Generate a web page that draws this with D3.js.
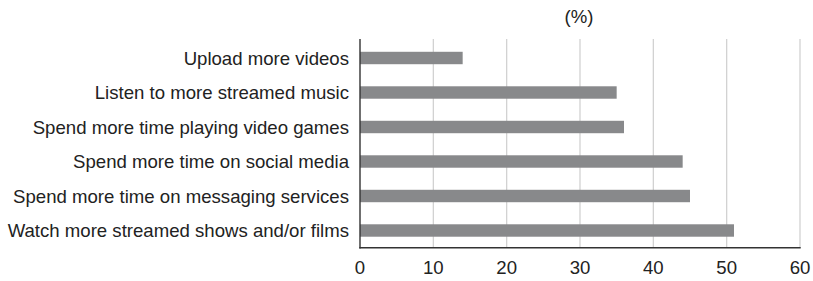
<!DOCTYPE html>
<html>
<head>
<meta charset="utf-8">
<script src="https://cdn.jsdelivr.net/npm/d3@7"></script>
<style>
  body { margin: 0; background: #fff; }
  svg text { font-family: "Liberation Sans", Arial, sans-serif; fill: #222; }
</style>
</head>
<body>
<svg id="chart" width="813" height="281"></svg>
<script>
// Chart data
const categories = [
  'Upload more videos',
  'Listen to more streamed music',
  'Spend more time playing video games',
  'Spend more time on social media',
  'Spend more time on messaging services',
  'Watch more streamed shows and/or films'
];
const values = [14, 35, 36, 44, 45, 51];
const xTicks = [0, 10, 20, 30, 40, 50, 60];
const unitLabel = '(%)';

const svg = d3.select('#chart');

const x = d3.scaleLinear().domain([0, 60]).range([360, 800]);
const y = d3.scaleBand()
  .domain(categories)
  .range([40.75, 247.75])
  .paddingInner(0.64)
  .paddingOuter(0.32);

// gridlines
svg.append('g')
  .selectAll('line')
  .data(xTicks.filter(d => d > 0))
  .enter().append('line')
  .attr('x1', d => x(d))
  .attr('x2', d => x(d))
  .attr('y1', 39)
  .attr('y2', 247.75)
  .attr('stroke', '#d2d2d2')
  .attr('stroke-width', 1.3);

// bars
svg.append('g')
  .selectAll('rect')
  .data(values)
  .enter().append('rect')
  .attr('x', x(0))
  .attr('y', (d, i) => y(categories[i]))
  .attr('width', d => x(d) - x(0))
  .attr('height', y.bandwidth())
  .attr('fill', '#88898b');

// axes lines
svg.append('line')
  .attr('x1', x(0)).attr('x2', x(0))
  .attr('y1', 39).attr('y2', 248.5)
  .attr('stroke', '#333').attr('stroke-width', 1.4);
svg.append('line')
  .attr('x1', x(0) - 0.7).attr('x2', x(60) + 0.7)
  .attr('y1', 247.75).attr('y2', 247.75)
  .attr('stroke', '#333').attr('stroke-width', 1.4);

// category labels
svg.append('g')
  .selectAll('text')
  .data(categories)
  .enter().append('text')
  .attr('x', 349)
  .attr('y', d => y(d) + y.bandwidth() / 2)
  .attr('dy', '0.36em')
  .attr('text-anchor', 'end')
  .attr('font-size', 18.6)
  .text(d => d);

// tick labels
svg.append('g')
  .selectAll('text')
  .data(xTicks)
  .enter().append('text')
  .attr('x', d => x(d))
  .attr('y', 274)
  .attr('text-anchor', 'middle')
  .attr('font-size', 18.6)
  .text(d => d);

svg.append('text')
  .attr('x', 579)
  .attr('y', 23)
  .attr('text-anchor', 'middle')
  .attr('font-size', 18.6)
  .text(unitLabel);
</script>
</body>
</html>
